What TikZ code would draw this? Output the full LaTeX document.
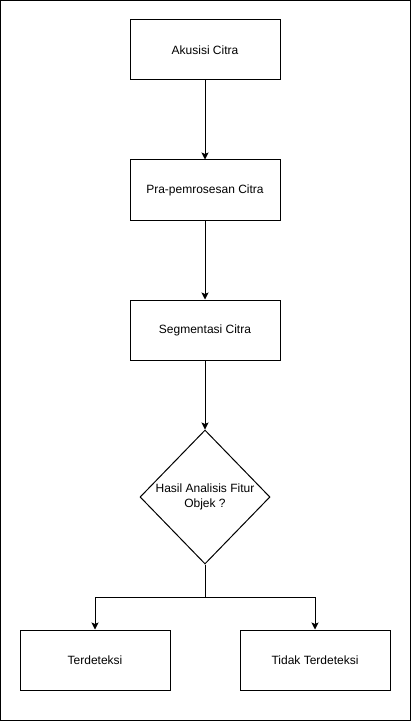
\documentclass[tikz,border=0pt]{standalone}
\usepackage{fontspec}
\setmainfont{Liberation Sans}
\usetikzlibrary{shapes.geometric,arrows.meta}
\begin{document}
\begin{tikzpicture}[x=1pt,y=-1pt,
  every node/.style={font=\fontsize{12}{14.4}\selectfont},
  procbox/.style={draw,line width=1pt,rectangle,minimum width=150pt,minimum height=60pt,inner sep=0pt},
  decbox/.style={draw,line width=1pt,diamond,minimum width=130pt,minimum height=134pt,inner sep=0pt,align=center},
  arr/.style={line width=1pt,-{Stealth[length=7pt,width=7pt,inset=1.5pt]}},
  ln/.style={line width=1pt}]
\useasboundingbox (0,0) rectangle (412,722);
\draw[line width=1pt] (0.5,0.5) rectangle (410.5,720.5);
\node[procbox] (b1) at (205,50) {Akusisi Citra};
\node[procbox] (b2) at (205,190) {Pra-pemrosesan Citra};
\node[procbox] (b3) at (205,330) {Segmentasi Citra};
\node[decbox] (d) at (205,497) {Hasil Analisis Fitur\\Objek ?};
\node[procbox] (b4) at (95,660) {Terdeteksi};
\node[procbox] (b5) at (315,660) {Tidak Terdeteksi};
\draw[arr] (b1) -- (b2);
\draw[arr] (b2) -- (b3);
\draw[arr] (b3) -- (d);
\coordinate (j) at (205,597);
\draw[ln] (d.south) -- (j);
\draw[arr] (j) -| (b4.north);
\draw[arr] (j) -| (b5.north);
\end{tikzpicture}
\end{document}
